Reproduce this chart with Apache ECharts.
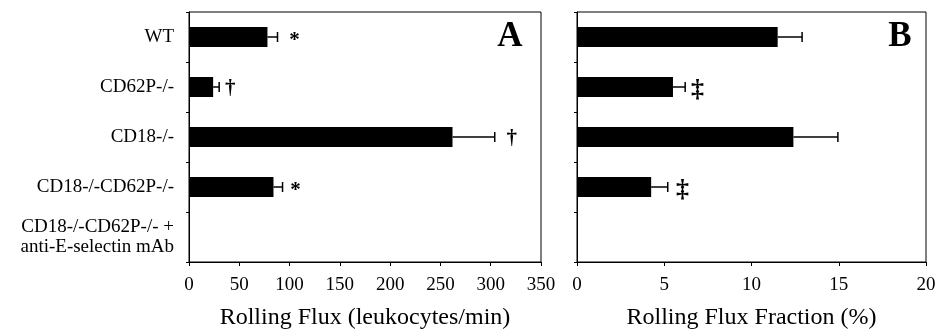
<!DOCTYPE html>
<html>
<head>
<meta charset="utf-8">
<script src="https://cdn.jsdelivr.net/npm/echarts@6/dist/echarts.min.js"></script>
<style>
  html, body { margin:0; padding:0; background:#fff; }
  #chart { width:939px; height:329px; }
</style>
</head>
<body>
<div id="chart"></div>
<script>
// categories, top to bottom
var groups = ['WT', 'CD62P-/-', 'CD18-/-', 'CD18-/-CD62P-/-', 'CD18-/-CD62P-/- +\nanti-E-selectin mAb'];

// panel A: rolling flux (leukocytes/min)
var fluxMean = [78, 24, 262, 84, 0];
var fluxErr  = [88, 30, 304, 93, null];
var fluxMark = ['*', '†', '†', '*', ''];
var fluxMarkAt = [105, 41, 321, 106, null];

// panel B: rolling flux fraction (%)
var fracMean = [11.5, 5.5, 12.4, 4.25, 0];
var fracErr  = [12.9, 6.2, 14.95, 5.2, null];
var fracMark = ['', '‡', '', '‡', ''];
var fracMarkAt = [null, 6.9, null, 6.05, null];

var ticksA = [0, 50, 100, 150, 200, 250, 300, 350];
var ticksB = [0, 5, 10, 15, 20];

var serif = '"Liberation Serif", "DejaVu Serif", serif';

var chart = echarts.init(document.getElementById('chart'));

function errSeries(idx, means, errs) {
  var data = [];
  for (var i = 0; i < means.length; i++) {
    if (errs[i] != null) data.push([means[i], errs[i], i]);
  }
  return {
    type: 'custom',
    xAxisIndex: idx, yAxisIndex: idx,
    silent: true,
    z: 5,
    renderItem: function (params, api) {
      var y = api.value(2);
      var p0 = api.coord([api.value(0), y]);
      var p1 = api.coord([api.value(1), y]);
      return {
        type: 'group',
        children: [
          { type: 'line', shape: { x1: p0[0], y1: p0[1], x2: p1[0], y2: p1[1] },
            style: { stroke: '#000', lineWidth: 1.5 } },
          { type: 'line', shape: { x1: p1[0], y1: p1[1] - 5, x2: p1[0], y2: p1[1] + 5 },
            style: { stroke: '#000', lineWidth: 1.5 } }
        ]
      };
    },
    data: data
  };
}

function markSeries(idx, marks, at) {
  var data = [];
  for (var i = 0; i < marks.length; i++) {
    if (marks[i]) data.push([at[i], i, marks[i]]);
  }
  return {
    type: 'custom',
    xAxisIndex: idx, yAxisIndex: idx,
    silent: true,
    renderItem: function (params, api) {
      var p = api.coord([api.value(0), api.value(1)]);
      var txt = data[params.dataIndex][2];
      var size = txt === '‡' ? 26 : 21;
      var dy = txt === '*' ? 4 : (txt === '‡' ? 3 : 2);
      return {
        type: 'text',
        x: p[0], y: p[1] + dy,
        style: { text: txt, fill: '#000', font: 'bold ' + size + 'px ' + serif, align: 'center', verticalAlign: 'middle' }
      };
    },
    data: data
  };
}

function xAxisFor(idx, max, interval, name, fmt) {
  return {
    gridIndex: idx, type: 'value', min: 0, max: max, interval: interval,
    name: name, nameLocation: 'middle', nameGap: 44,
    nameTextStyle: { fontFamily: serif, fontSize: 24, color: '#000' },
    axisLine: { show: true, lineStyle: { color: '#000', width: 1 } },
    axisTick: { show: true, length: 4, lineStyle: { color: '#000' } },
    axisLabel: { fontFamily: serif, fontSize: 19, color: '#000', margin: 14,
      formatter: fmt },
    splitLine: { show: false }
  };
}

function yAxisFor(idx, showLabels) {
  return {
    gridIndex: idx, type: 'category', data: groups, inverse: true,
    axisLine: { show: true, lineStyle: { color: '#000', width: 1 } },
    axisTick: { show: true, length: 3, lineStyle: { color: '#000' } },
    axisLabel: { show: showLabels, fontFamily: serif, fontSize: 19, color: '#000',
      margin: 15, lineHeight: 20, align: 'right' }
  };
}

chart.setOption({
  animation: false,
  backgroundColor: '#fff',
  grid: [
    { left: 189, top: 12, width: 352, height: 250, show: true, borderColor: '#000', borderWidth: 1,
      containLabel: false, outerBoundsMode: 'none' },
    { left: 577, top: 12, width: 349, height: 250, show: true, borderColor: '#000', borderWidth: 1,
      containLabel: false, outerBoundsMode: 'none' }
  ],
  xAxis: [
    xAxisFor(0, 350, 50, 'Rolling Flux (leukocytes/min)', function (v) { return ticksA.indexOf(v) >= 0 ? v : ''; }),
    xAxisFor(1, 20, 5, 'Rolling Flux Fraction (%)', function (v) { return ticksB.indexOf(v) >= 0 ? v : ''; })
  ],
  yAxis: [yAxisFor(0, true), yAxisFor(1, false)],
  graphic: [
    { type: 'text', x: 510, y: 37, style: { text: 'A', font: 'bold 35px ' + serif, fill: '#000', align: 'center', verticalAlign: 'middle' } },
    { type: 'text', x: 900, y: 37, style: { text: 'B', font: 'bold 35px ' + serif, fill: '#000', align: 'center', verticalAlign: 'middle' } }
  ],
  series: [
    { type: 'bar', xAxisIndex: 0, yAxisIndex: 0, data: fluxMean, barWidth: 20,
      itemStyle: { color: '#000' }, silent: true },
    { type: 'bar', xAxisIndex: 1, yAxisIndex: 1, data: fracMean, barWidth: 20,
      itemStyle: { color: '#000' }, silent: true },
    errSeries(0, fluxMean, fluxErr),
    errSeries(1, fracMean, fracErr),
    markSeries(0, fluxMark, fluxMarkAt),
    markSeries(1, fracMark, fracMarkAt)
  ]
});
</script>
</body>
</html>
